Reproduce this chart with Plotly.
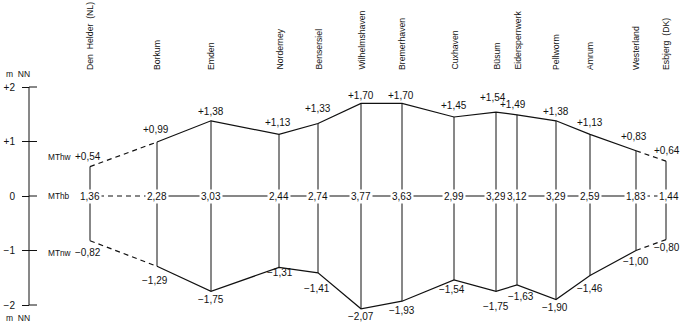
import plotly.graph_objects as go

# ---------------- data ----------------
stations = ["Den  Helder  (NL)", "Borkum", "Emden", "Norderney", "Bensersiel",
            "Wilhelmshaven", "Bremerhaven", "Cuxhaven", "Büsum", "Eidersperrwerk",
            "Pellworm", "Amrum", "Westerland", "Esbjerg  (DK)"]
# relative position of each gauge along the coast (chart units)
station_pos = [90, 157, 211, 279, 318, 361, 402, 454, 496, 517, 556, 590, 636, 666]
mthw = [0.54, 0.99, 1.38, 1.13, 1.33, 1.70, 1.70, 1.45, 1.54, 1.49, 1.38, 1.13, 0.83, 0.64]
mtnw = [-0.82, -1.29, -1.75, -1.31, -1.41, -2.07, -1.93, -1.54, -1.75, -1.63, -1.90, -1.46, -1.00, -0.80]
mthb = [1.36, 2.28, 3.03, 2.44, 2.74, 3.77, 3.63, 2.99, 3.29, 3.12, 3.29, 2.59, 1.83, 1.44]
y_ticks = [-2, -1, 0, 1, 2]
y_tick_text = ["−2", "−1", "0", "+1", "+2"]
level_names = ["MThw", "MThb", "MTnw"]

# ---------------- styling (label offsets in px) ----------------
hw_dx = [-2, -1, 0, -1, 0, 0, -1, 0, -3, -4, 0, 0, -2, 1]
hw_dy = [10, 13, 9, 12, 15, 8, 8, 11, 15, 10, 9, 12, 14, 11]
lw_dx = [-2, -2, 0, 1, -1, 0, 0, -2, 0, 4, -1, 0, 0, 1]
lw_dy = [-12, -14, -8, -5, -16, -8, -9, -10, -15, -12, -8, -13, -11, -8]
hb_dx = [0] * 13 + [3]

INK = "#111111"
FONT = "Liberation Sans, Arial, sans-serif"
PX_PER_M = 54.5
W, H = 685, 328
TOP, BOT = 65, 6
y_hi = 2 + (87 - TOP) / PX_PER_M
y_lo = y_hi - (H - TOP - BOT) / PX_PER_M
AXIS_X = 29


def fmt(v, sign=True):
    s = f"{v:+.2f}" if sign else f"{v:.2f}"
    return s.replace(".", ",").replace("-", "−")


fig = go.Figure()
n = len(stations)
zero = [0] * n


def add_level(yvals):
    # dashed first segment, solid middle, dashed last segment
    segs = [(0, 2, "5px,4px"), (1, n - 1, "solid"), (n - 2, n, "5px,4px")]
    for a, b, dash in segs:
        fig.add_trace(go.Scatter(x=station_pos[a:b], y=yvals[a:b], mode="lines",
                                 line=dict(color=INK, width=1.2, dash=dash),
                                 hoverinfo="skip", showlegend=False))


for lvl in (mthw, zero, mtnw):
    add_level(lvl)

# vertical gauge lines MTnw -> MThw
vx, vy = [], []
for p, lo, hi in zip(station_pos, mtnw, mthw):
    vx += [p, p, None]
    vy += [lo, hi, None]
fig.add_trace(go.Scatter(x=vx, y=vy, mode="lines", line=dict(color=INK, width=1),
                         hoverinfo="skip", showlegend=False))

ann = []
tf = dict(family=FONT, size=10, color=INK)
for i, p in enumerate(station_pos):
    ann.append(dict(x=p, y=mthw[i], text=fmt(mthw[i]), showarrow=False, font=tf,
                    xshift=hw_dx[i], yshift=hw_dy[i], yanchor="middle"))
    ann.append(dict(x=p, y=mtnw[i], text=fmt(mtnw[i]), showarrow=False, font=tf,
                    xshift=lw_dx[i], yshift=lw_dy[i], yanchor="middle"))
    ann.append(dict(x=p, y=0, text=fmt(mthb[i], sign=False), showarrow=False, font=tf,
                    xshift=hb_dx[i], bgcolor="white", borderpad=1, yanchor="middle"))
    ann.append(dict(x=p, y=2, text=stations[i], textangle=-90, showarrow=False,
                    font=dict(family=FONT, size=8.7, color=INK),
                    yanchor="bottom", xanchor="center", yshift=15))

# level names on the left
for name, yv, dy in zip(level_names, [mthw[0], 0, mtnw[0]], [hw_dy[0], 0, lw_dy[0]]):
    ann.append(dict(x=46, y=yv, text=name, showarrow=False, xanchor="left",
                    yanchor="middle", yshift=dy, font=dict(family=FONT, size=8.3, color=INK)))

# unit labels
for yv, dy in ((2, 13), (-2, -13)):
    ann.append(dict(x=4, y=yv, text="m  NN", showarrow=False, xanchor="left",
                    yanchor="middle", yshift=dy, font=dict(family=FONT, size=8.5, color=INK)))

shapes = [dict(type="line", xref="x", yref="y", x0=AXIS_X, x1=AXIS_X,
               y0=min(y_ticks), y1=max(y_ticks), line=dict(color=INK, width=1))]
for t in y_ticks:
    shapes.append(dict(type="line", xref="x", yref="y", x0=AXIS_X, x1=AXIS_X + 8, y0=t, y1=t,
                       line=dict(color=INK, width=1)))

fig.update_layout(
    width=W, height=H, margin=dict(l=0, r=0, t=TOP, b=BOT, autoexpand=False),
    paper_bgcolor="white", plot_bgcolor="white",
    xaxis=dict(visible=False, range=[0, W], fixedrange=True),
    yaxis=dict(range=[y_lo, y_hi], anchor="free", position=AXIS_X / W,
               tickvals=y_ticks, ticktext=y_tick_text, ticks="outside", ticklen=7,
               ticklabelstandoff=5, fixedrange=True,
               tickcolor=INK, tickwidth=1, showline=False, showgrid=False,
               zeroline=False, tickfont=dict(family=FONT, size=10, color=INK)),
    annotations=ann, shapes=shapes, showlegend=False,
)

# remove the default page margin so the 685x328 figure fills the window
fig.write_html("out.html", config={"displayModeBar": False},
               post_script="document.body.style.margin='0';")
